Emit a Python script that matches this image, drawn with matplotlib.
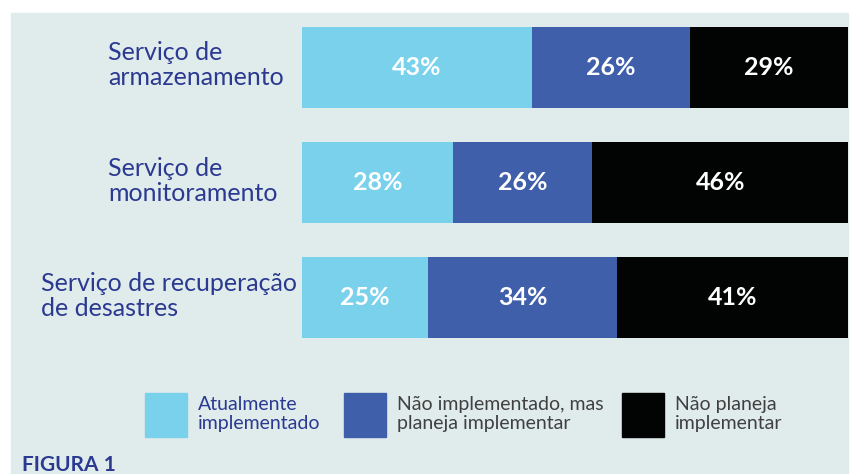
import matplotlib.pyplot as plt
from matplotlib.patches import Rectangle

categories = ['Serviço de\narmazenamento', 'Serviço de\nmonitoramento',
              'Serviço de recuperação\nde desastres']
# printed percentages
atual = [43, 28, 25]
planeja = [26, 26, 34]
nao_planeja = [29, 46, 41]
# segment lengths as drawn in the picture (share of bar, %)
atual_len = [42.1, 27.7, 23.1]
planeja_len = [28.9, 25.5, 34.6]
nao_planeja_len = [29.0, 46.8, 42.3]
series_names = ['Atualmente\nimplementado', 'Não implementado, mas\nplaneja implementar',
                'Não planeja\nimplementar']

colors = ['#7ad1ec', '#3f5fab', '#020404']
bg = '#e0ecec'
navy = '#2b3990'
grey = '#404040'
font = 'Lato'

fig = plt.figure(figsize=(8.53, 4.74), dpi=100)
fig.patches.append(Rectangle((11 / 853, 0), 837 / 853, 1 - 13 / 474,
                             transform=fig.transFigure, color=bg, zorder=-1))

ax = fig.add_axes([302 / 853, 1 - 338 / 474, 546 / 853, 311 / 474])
ax.set_facecolor('none')

series = [(atual, atual_len), (planeja, planeja_len), (nao_planeja, nao_planeja_len)]
left = [0] * len(categories)
for (vals, lens), col in zip(series, colors):
    ax.barh(range(len(categories)), lens, left=left, height=0.7, color=col)
    for i, (v, w, l) in enumerate(zip(vals, lens, left)):
        ax.text(l + w / 2, i, f'{v}%', ha='center', va='center', color='white',
                fontsize=18, fontweight='bold', family=font)
    left = [l + w for l, w in zip(left, lens)]

ax.set_xlim(0, 100)
ax.set_ylim(2.35, -0.35)
ax.axis('off')

# category labels (left-aligned blocks)
label_x = [108, 108, 41]
for i, (lab, lx) in enumerate(zip(categories, label_x)):
    y = ax.transData.transform((0, i))[1]
    fig.text(lx / 853, y / 474 + 0.004, lab, ha='left', va='center', color=navy,
             fontsize=18, family=font, linespacing=1.1)

# legend
sq_x = [145, 344, 622]
txt_colors = [navy, grey, grey]
for sx, col, name, tc in zip(sq_x, colors, series_names, txt_colors):
    fig.patches.append(Rectangle((sx / 853, 1 - 437 / 474), 42 / 853, 44 / 474,
                                 transform=fig.transFigure, color=col))
    fig.text((sx + 53) / 853, 1 - 414 / 474, name, ha='left', va='center',
             color=tc, fontsize=14, family=font, linespacing=1.12)

fig.text(22 / 853, 1 - 465 / 474, 'FIGURA 1', ha='left', va='center', color=navy,
         fontsize=15, fontweight='bold', family=font)

fig.savefig('out.png', dpi=100)
